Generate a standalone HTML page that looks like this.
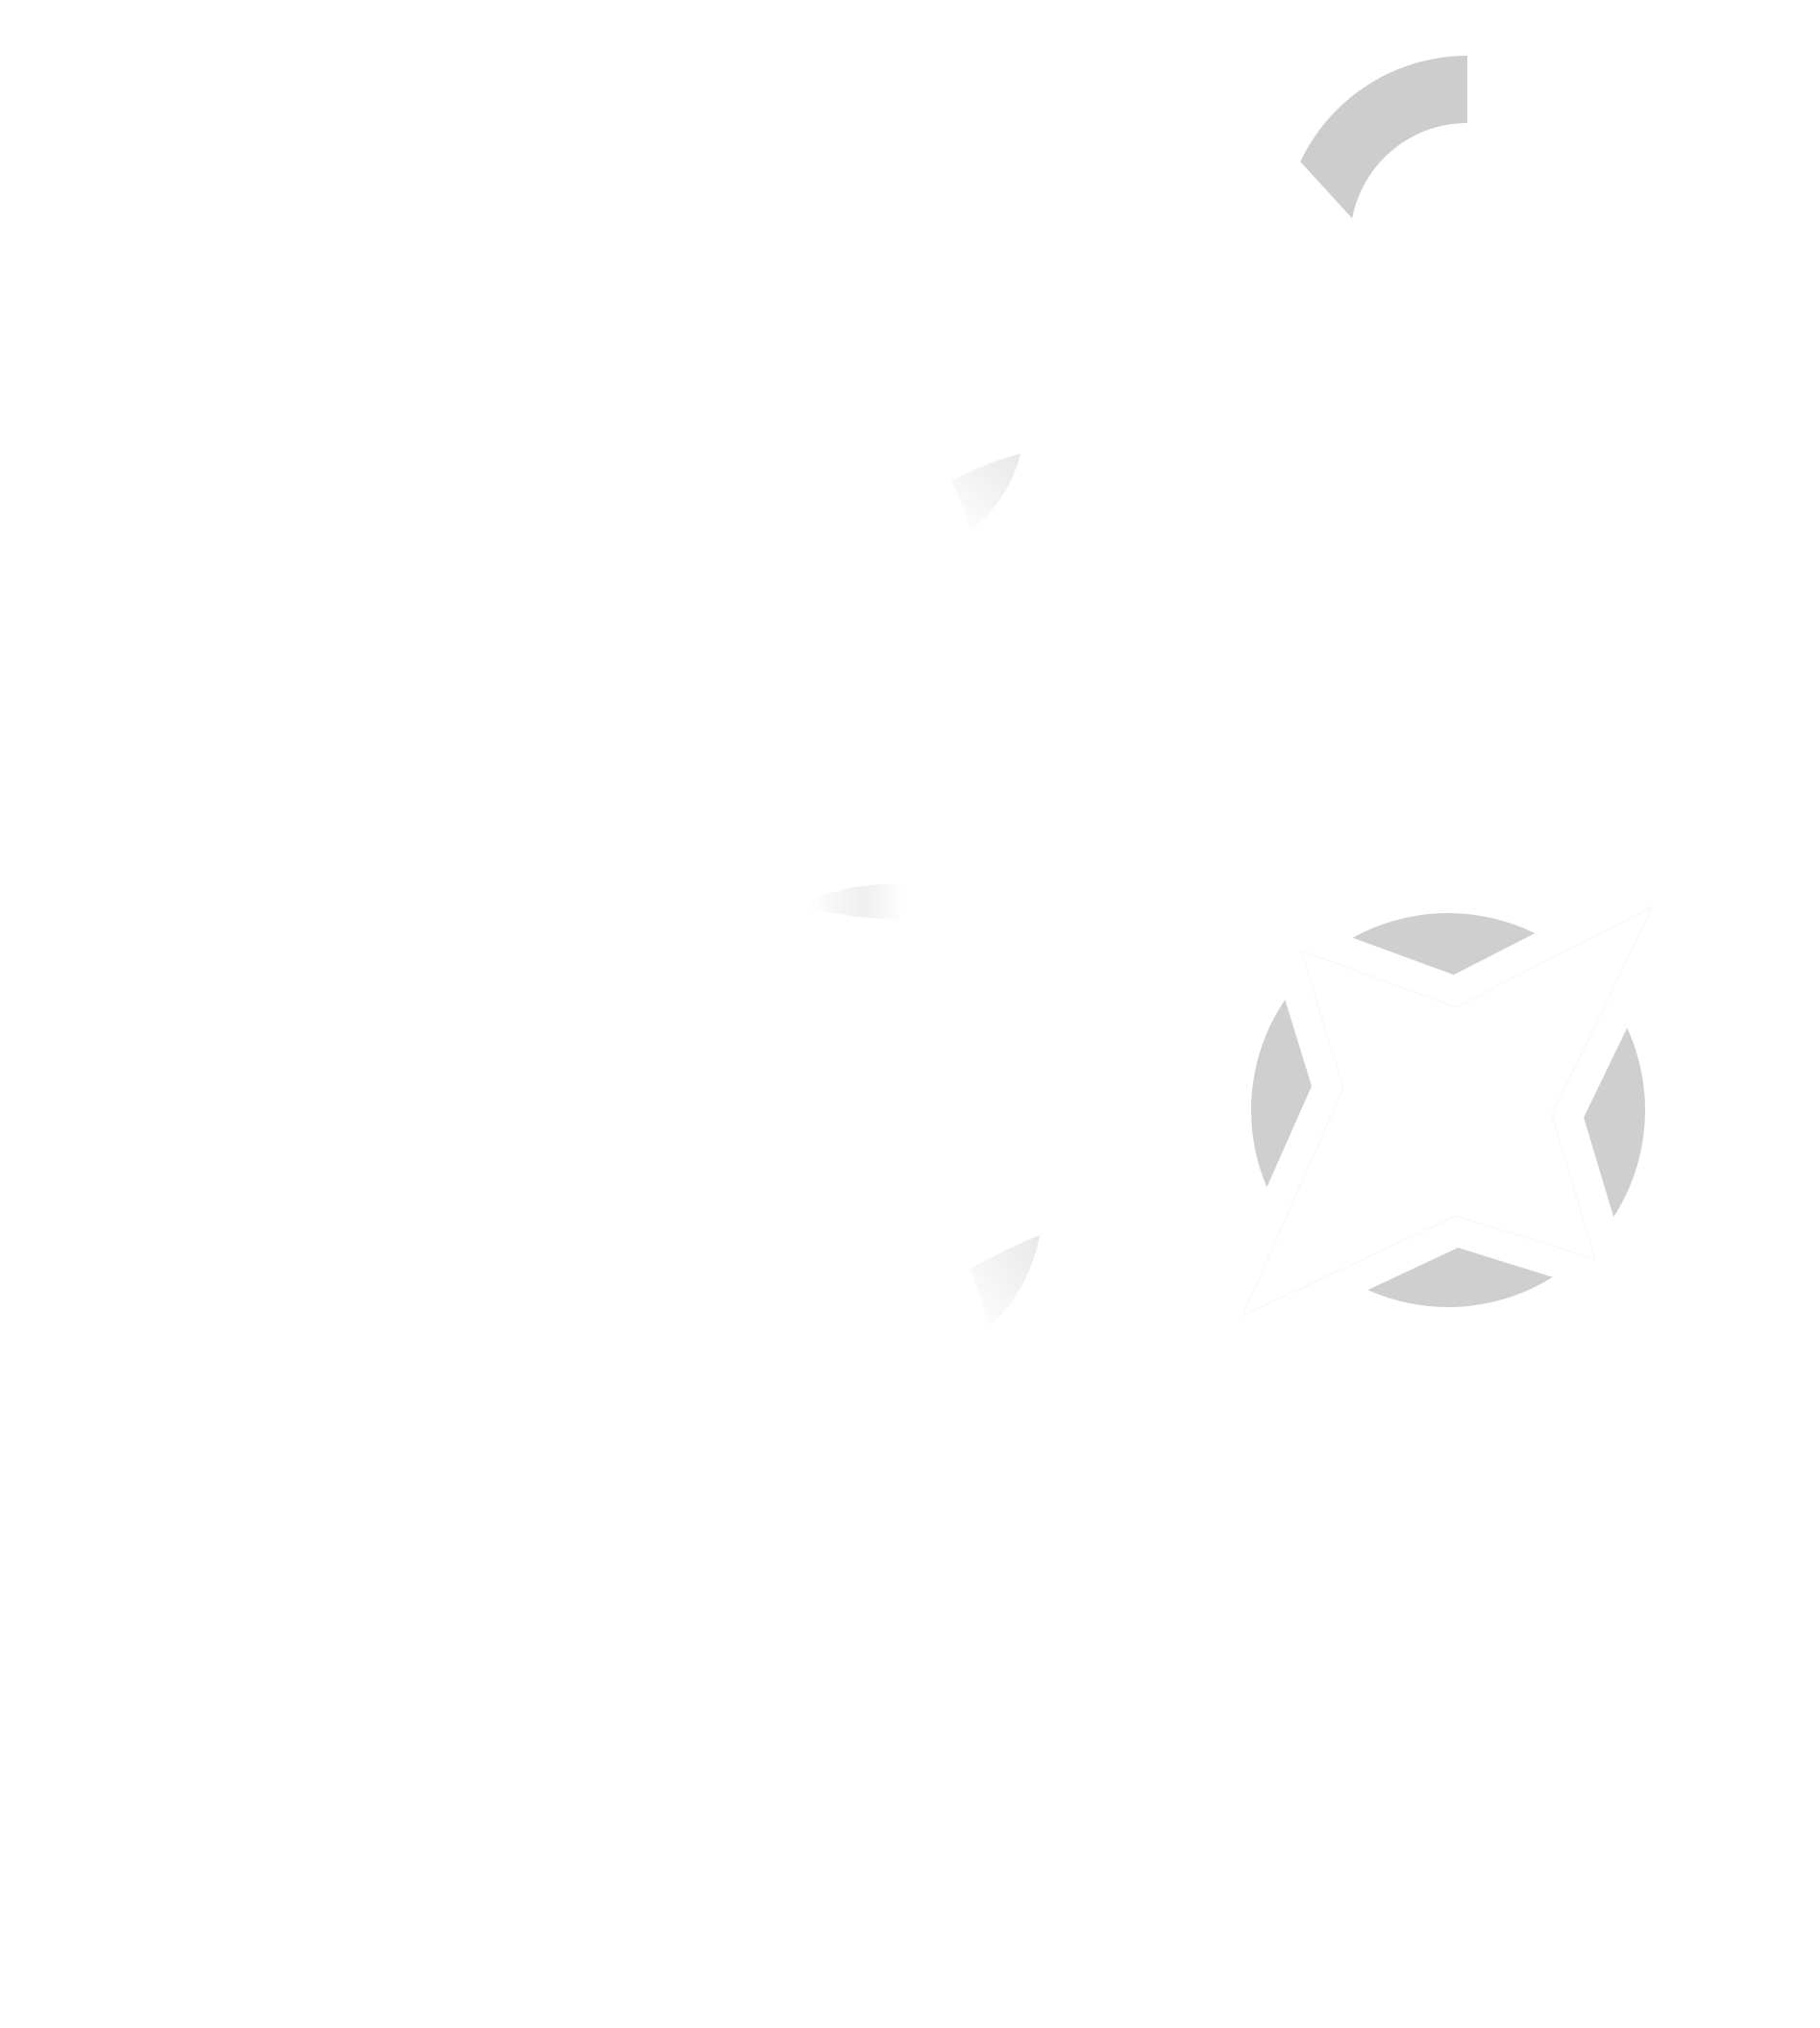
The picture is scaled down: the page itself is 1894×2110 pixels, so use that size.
<!DOCTYPE html>
<html><head><meta charset="utf-8"><style>
html,body{margin:0;padding:0;background:#fff;}
svg{display:block;}
</style></head><body>
<svg width="1894" height="2110" viewBox="0 0 1894 2110" xmlns="http://www.w3.org/2000/svg">
<defs>
<clipPath id="wedge"><polygon points="1527,30 1527,250 1428,250 1300,110 1300,30"/></clipPath>
<linearGradient id="g1" x1="1" y1="0" x2="0" y2="1"><stop offset="0" stop-color="#e8e8e8"/><stop offset="1" stop-color="#fff"/></linearGradient>
<linearGradient id="g2" x1="0" y1="0" x2="1" y2="0"><stop offset="0" stop-color="#fff"/><stop offset="0.6" stop-color="#efefef"/><stop offset="1" stop-color="#fff"/></linearGradient>
</defs>
<rect width="1894" height="2110" fill="#fff"/>
<path clip-path="url(#wedge)" fill-rule="evenodd" fill="#cdcdcd"
 d="M1527,58 a192,192 0 1,0 0.01,0 Z M1527,128 a122,122 0 1,0 0.01,0 Z"/>
<path d="M1062,472 Q1050,520 1010,552 Q1000,520 990,500 Q1030,480 1062,472 Z" fill="url(#g1)"/>
<path d="M838,940 Q880,918 940,920 L940,958 Q890,955 838,945 Z" fill="url(#g2)"/>
<path d="M1082,1285 Q1072,1340 1030,1380 Q1020,1350 1010,1320 Q1045,1300 1082,1285 Z" fill="url(#g1)"/>
<circle cx="1507" cy="1155" r="205" fill="#cfcfcf"/>
<polygon points="1354,989 1515,1048 1720,943 1615,1160 1660,1310 1515,1265 1293,1369 1398,1132"
 fill="#fff" stroke="#fff" stroke-width="62" stroke-linejoin="miter" stroke-miterlimit="10"/>
<polygon points="1354,989 1515,1048 1720,943 1615,1160 1660,1310 1515,1265 1293,1369 1398,1132"
 fill="#fff" stroke="#f6f6f6" stroke-width="1"/>
</svg>
</body></html>
